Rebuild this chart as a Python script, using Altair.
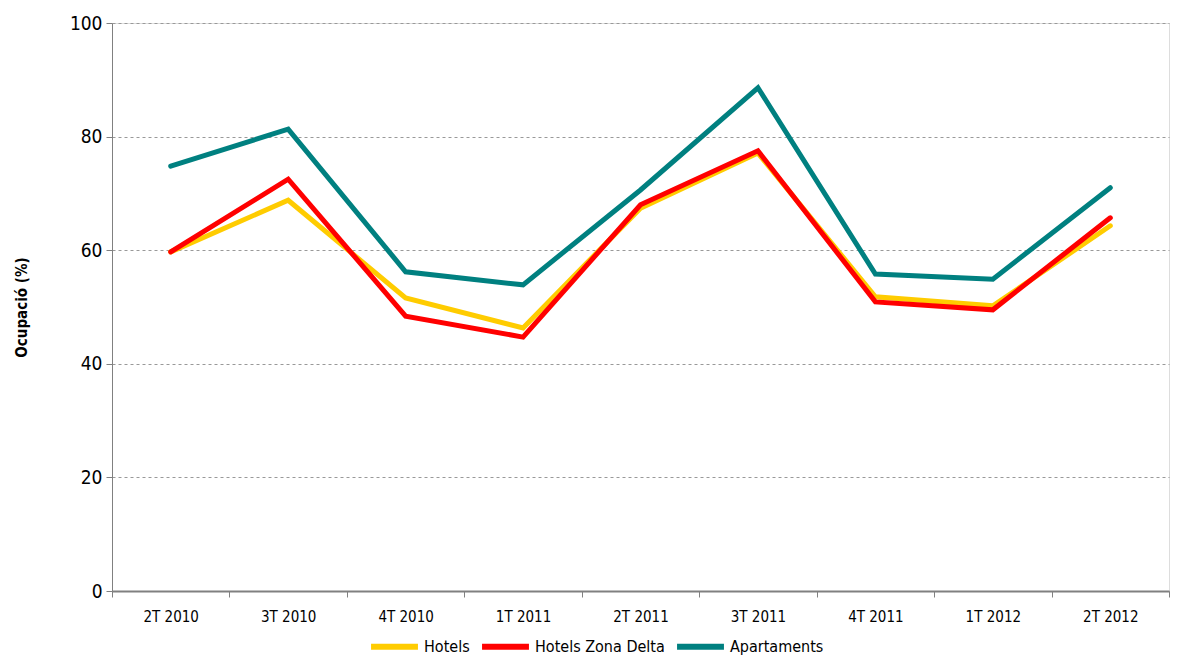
import altair as alt
import pandas as pd

quarters = ["2T 2010", "3T 2010", "4T 2010", "1T 2011", "2T 2011", "3T 2011", "4T 2011", "1T 2012", "2T 2012"]
hotels = [59.7, 68.8, 51.6, 46.3, 67.4, 77.1, 51.8, 50.2, 64.3]
hotels_delta = [59.7, 72.5, 48.4, 44.7, 68.0, 77.5, 50.9, 49.5, 65.7]
apartaments = [74.8, 81.3, 56.2, 53.9, 70.6, 88.6, 55.8, 54.9, 71.0]

series_names = ["Hotels", "Hotels Zona Delta", "Apartaments"]
series_colors = ["#FFCC00", "#FF0000", "#008080"]

rows = []
for name, vals in zip(series_names, [hotels, hotels_delta, apartaments]):
    for q, v in zip(quarters, vals):
        rows.append({"Trimestre": q, "Ocupació": v, "Serie": name, "ord": series_names.index(name)})
df = pd.DataFrame(rows)

font = "DejaVu Sans Condensed, Liberation Sans, sans-serif"

chart = alt.Chart(df).mark_line(strokeWidth=5, strokeCap="round", strokeJoin="miter").encode(
    x=alt.X("Trimestre:N", sort=quarters, bandPosition=0.5,
            scale=alt.Scale(type="band", paddingInner=0, paddingOuter=0),
            axis=alt.Axis(title=None, labelAngle=0, tickBand="extent", grid=False,
                          labelFontSize=15, labelColor="#000", labelFont=font,
                          domainColor="#808080", tickColor="#808080", tickSize=6,
                          labelPadding=12, domainWidth=2)),
    y=alt.Y("Ocupació:Q", scale=alt.Scale(domain=[0, 100]),
            axis=alt.Axis(title="Ocupació (%)", values=[0, 20, 40, 60, 80, 100],
                          titleFont=font, titleFontSize=15, titleFontWeight="bold",
                          titleColor="#000", titlePadding=40,
                          labelFontSize=19, labelColor="#000", labelFont=font,
                          labelPadding=4,
                          domainColor="#808080", tickColor="#808080", tickSize=6,
                          gridColor="#999999", gridDash=[3, 3], gridWidth=1)),
    color=alt.Color("Serie:N", scale=alt.Scale(domain=series_names, range=series_colors),
                    legend=alt.Legend(title=None, orient="none", direction="horizontal",
                                      legendX=256, legendY=597,
                                      symbolType="stroke", symbolStrokeWidth=6, symbolSize=2200,
                                      labelFontSize=16, labelFont=font, labelColor="#000",
                                      columnPadding=0, labelOffset=3)),
    order=alt.Order("ord:Q"),
).properties(
    width=1162, height=652,
    autosize=alt.AutoSizeParams(type="fit", contains="padding"),
    padding={"left": 6, "top": 6, "right": 0, "bottom": 36},
).configure_view(stroke=None).configure(background="white")

chart.save("out.html", embed_options={"renderer": "svg", "actions": False})
